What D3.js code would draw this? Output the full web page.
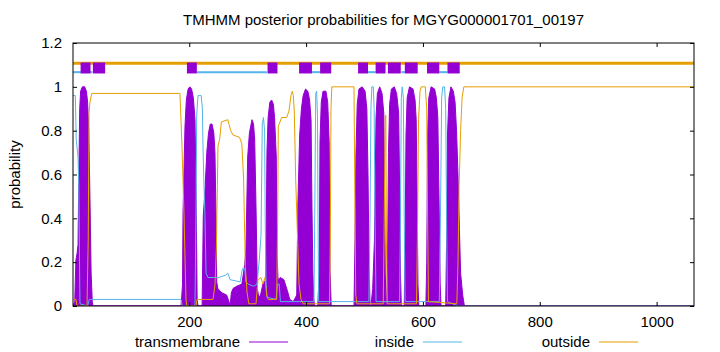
<!DOCTYPE html>
<html>
  <head>
    <meta charset="UTF-8" />
    <script src="https://d3js.org/d3.v7.min.js"></script>
    <style>
      body { margin: 0; background: #fff; }
      text { font-family: "Liberation Sans", Arial, sans-serif; }
    </style>
  </head>
  <body>
    <div id="chart"></div>
    <script>
      // sequence positions and posterior probabilities
      var transmembrane = [
        [1,0],[4,0.02],[5,0.12],[6,0.21],[8,0.24],[9.6,0.28],[11,0.6],[12.5,0.9],[14,0.98],[17,1],[21,1],[24,0.98],[26,0.93],[28,0.8],[30,0.5],[32,0.15],[34,0.02],[35,0],
        [186,0],[188.5,0.1],[189.3,0.42],[192.7,0.82],[195,0.94],[198,0.99],[201,1],[204,0.99],[207,0.95],[209.8,0.85],[211.5,0.55],[212.5,0.3],[213.5,0.03],[215,0],
        [222,0],[223.5,0.3],[224,0.41],[227,0.53],[230,0.7],[233,0.79],[236,0.83],[239,0.83],[242,0.79],[244,0.7],[245.8,0.41],[247,0.11],[249,0.08],[252,0.07],[256,0.06],[264,0.05],[268,0.02],[270,0],
        [272,0.06],[275,0.08],[281,0.09],[290,0.1],[295,0.19],[297,0.26],[300,0.68],[303,0.79],[307.4,0.85],[310,0.83],[312,0.76],[314.5,0.42],[316.5,0.08],[319,0.04],[322,0.05],[326,0.1],[331,0.12],
        [333,0.7],[335,0.86],[338,0.93],[341,0.94],[344,0.92],[346,0.86],[349,0.68],[350.5,0.22],[352,0.12],[356,0.13],[362,0.12],[368,0.07],[372,0.03],[378,0.02],[382,0.04],[384,0.05],
        [386,0.47],[389,0.78],[392,0.9],[395,0.96],[399,0.99],[403,0.98],[406,0.94],[408.5,0.85],[410,0.47],[411.5,0.16],[413,0.03],[415,0],
        [420,0],[422.5,0.16],[423.8,0.75],[426,0.93],[429,0.98],[434,0.98],[437,0.93],[439.5,0.75],[441,0.16],[443,0],
        [482,0],[483.7,0.3],[485.4,0.7],[487.5,0.92],[490.5,0.99],[496,1],[501,0.98],[504,0.9],[506,0.6],[507.7,0.2],[509.5,0],
        [511,0],[514,0.08],[517,0.3],[519.7,0.86],[522,0.97],[526,1],[530,0.97],[533,0.88],[534.5,0.5],[535.5,0.15],[537,0],
        [538,0],[539.5,0.2],[541,0.7],[543,0.92],[546,0.99],[551,1],[555,0.97],[558.5,0.88],[560,0.55],[561.5,0.15],[563,0],
        [568,0],[569.5,0.3],[571,0.78],[573,0.95],[577,1],[583,0.99],[586.5,0.94],[588.5,0.85],[590,0.5],[591.5,0.1],[593,0],
        [605,0],[606.5,0.2],[608,0.78],[610,0.95],[614,1],[620,0.99],[623,0.95],[625.5,0.86],[627.5,0.5],[629.5,0.1],[631,0],
        [639,0],[640.5,0.3],[642,0.78],[644.5,0.95],[648,1],[652,0.98],[655,0.93],[657.5,0.8],[660,0.6],[662.5,0.35],[664.5,0.15],[668,0.05],[671,0],[1064,0]
      ];
      var inside = [
        [1,0.96],[5,0.96],[6.5,0.76],[9.6,0.68],[11,0.55],[12.5,0.1],[13,0.01],[26,0],[29,0.03],[31,0.03],[186,0.03],[188,0],
        [209.8,0],[211.5,0.42],[212.7,0.87],[215,0.96],[220.5,0.96],[222.5,0.9],[223.5,0.73],[225.2,0.55],[227,0.4],[228.7,0.15],[232,0.13],[250,0.13],[262,0.14],[266,0.15],[270,0.12],
        [287,0.11],[291,0.17],[295,0.17],[297,0.11],[301,0.1],[310,0.09],[316,0.1],[319.5,0.2],[322.8,0.32],[324,0.6],[325,0.83],[327,0.86],[329,0.8],[330,0.4],[331.4,0.11],[333,0.04],
        [348.5,0.03],[351,0.1],[354,0.1],[356,0.02],[413.5,0.02],[415.3,0.58],[416.5,0.97],[418,0.98],[419.5,0.87],[420.4,0.42],[421.5,0.02],
        [507.5,0.02],[509.4,0.4],[511,0.9],[512.5,1],[515,1],[516.5,0.9],[518,0.4],[519.7,0.02],
        [560,0.02],[561.5,0.4],[563,0.95],[564.5,1],[566.5,0.95],[568,0.4],[569.5,0.02],
        [628,0.02],[630,0.4],[632,0.95],[634,1],[637,1],[639,0.9],[640.5,0.4],[642,0.02],[660,0],[1064,0]
      ];
      var outside = [
        [1,0.03],[6,0.03],[8,0],[25,0],[27,0.3],[28.5,0.88],[30,0.93],[33,0.97],[184,0.97],[187.6,0.73],[191,0.42],[194.4,0.03],[196,0],
        [211.5,0],[213.3,0.03],[240.7,0.03],[244.1,0.1],[246.5,0.27],[249.2,0.73],[252,0.76],[255,0.84],[266,0.85],[268,0.83],[271,0.8],[275,0.78],[286,0.77],[290,0.74],[293,0.58],[296,0.18],[299,0.06],[302,0.01],
        [314.3,0.01],[317.7,0.12],[322.8,0.13],[326,0.1],[329.7,0.13],[332.5,0.05],[335.3,0.03],[349.7,0.03],[351.4,0.42],[352.4,0.82],[358.2,0.86],[366.8,0.86],[370.7,0.89],[374.1,0.96],[376.4,0.98],[378.1,0.96],[379.8,0.89],[382.2,0.58],[385.6,0.29],[387.9,0.1],[391.3,0.03],[395,0.01],
        [440,0.01],[441.5,0.3],[442.6,0.9],[444,1],[482,1],[483.5,0.5],[485,0.05],[487,0.01],
        [532,0.01],[533.4,0.3],[535.5,0.87],[536.5,0.87],[537.5,0.3],[539,0.01],
        [589,0.01],[590.5,0.3],[592.5,0.85],[595,0.98],[597,1],[604,1],[606.5,0.9],[608,0.4],[609.5,0.02],
        [658,0.01],[660,0.2],[662,0.55],[664.5,0.8],[667,0.95],[670,1],[1064,1]
      ];
      // predicted topology shown above the curves
      var helixRegions = [[14,31],[35,56],[196,213],[334,351],[388,410],[424,443],[489,506],[519,536],[540,562],[569,591],[607,628],[642,663]];
      var insideRegions = [[1,34],[213,333],[410,424],[506,519],[563,569],[628,642]];
      var outsideRegions = [[1,1064]];
      var xTicks = [200, 400, 600, 800, 1000];
      var yTicks = [0, 0.2, 0.4, 0.6, 0.8, 1, 1.2];
      var seqLength = 1064;

      var W = 720, H = 352;
      var margin = { top: 43, right: 26, bottom: 46, left: 73 };
      var colors = { tm: "#9400d3", inside: "#56b4e9", outside: "#e69f00" };

      var svg = d3.select("#chart").append("svg")
        .attr("width", W).attr("height", H);

      var x = d3.scaleLinear().domain([1, seqLength]).range([margin.left, W - margin.right]);
      var y = d3.scaleLinear().domain([0, 1.2]).range([H - margin.bottom, margin.top]);

      svg.append("clipPath").attr("id", "clip").append("rect")
        .attr("x", x(1)).attr("y", y(1.2))
        .attr("width", x(seqLength) - x(1)).attr("height", y(0) - y(1.2));

      var plot = svg.append("g").attr("clip-path", "url(#clip)");

      var area = d3.area().x(d => x(d[0])).y0(y(0)).y1(d => y(d[1]));
      var line = d3.line().x(d => x(d[0])).y(d => y(d[1]));

      plot.append("path").attr("d", area(transmembrane))
        .attr("fill", colors.tm).attr("stroke", colors.tm).attr("stroke-width", 1);
      plot.append("path").attr("d", line(inside))
        .attr("fill", "none").attr("stroke", colors.inside).attr("stroke-width", 1);
      plot.append("path").attr("d", line(outside))
        .attr("fill", "none").attr("stroke", colors.outside).attr("stroke-width", 1);

      // topology bars
      plot.selectAll(".outbar").data(outsideRegions).enter().append("line")
        .attr("x1", d => x(d[0])).attr("x2", d => x(d[1]))
        .attr("y1", y(1.108)).attr("y2", y(1.108))
        .attr("stroke", colors.outside).attr("stroke-width", 3);
      plot.selectAll(".inbar").data(insideRegions).enter().append("line")
        .attr("x1", d => x(d[0])).attr("x2", d => x(d[1]))
        .attr("y1", y(1.067)).attr("y2", y(1.067))
        .attr("stroke", colors.inside).attr("stroke-width", 2);
      plot.selectAll(".tmbox").data(helixRegions).enter().append("rect")
        .attr("x", d => x(d[0])).attr("width", d => x(d[1]) - x(d[0]))
        .attr("y", y(1.111)).attr("height", y(1.061) - y(1.111))
        .attr("fill", colors.tm);

      // axes
      var tickLen = 4;
      function styleAxis(g, labels) {
        g.select(".domain").remove();
        g.selectAll(".tick line").attr("stroke", "#000");
        g.selectAll(".tick text").attr("font-size", 15).attr("fill", "#000");
        if (!labels) g.selectAll(".tick text").remove();
      }
      svg.append("g").attr("transform", "translate(0," + y(0) + ")")
        .call(d3.axisBottom(x).tickValues(xTicks).tickFormat(d3.format("d")).tickSize(-tickLen).tickPadding(10))
        .call(g => styleAxis(g, true));
      svg.append("g").attr("transform", "translate(0," + y(1.2) + ")")
        .call(d3.axisTop(x).tickValues(xTicks).tickSize(-tickLen))
        .call(g => styleAxis(g, false));
      svg.append("g").attr("transform", "translate(" + x(1) + ",0)")
        .call(d3.axisLeft(y).tickValues(yTicks).tickFormat(d3.format("~g")).tickSize(-tickLen).tickPadding(11))
        .call(g => styleAxis(g, true));
      svg.append("g").attr("transform", "translate(" + x(seqLength) + ",0)")
        .call(d3.axisRight(y).tickValues(yTicks).tickSize(-tickLen))
        .call(g => styleAxis(g, false));

      svg.append("rect")
        .attr("x", x(1)).attr("y", y(1.2))
        .attr("width", x(seqLength) - x(1)).attr("height", y(0) - y(1.2))
        .attr("fill", "none").attr("stroke", "#000").attr("stroke-width", 1);

      svg.append("text").attr("x", (x(1) + x(seqLength)) / 2).attr("y", 25)
        .attr("text-anchor", "middle").attr("font-size", 15)
        .text("TMHMM posterior probabilities for MGYG000001701_00197");

      svg.append("text")
        .attr("transform", "translate(20," + (y(0) + y(1.2)) / 2 + ") rotate(-90)")
        .attr("text-anchor", "middle").attr("font-size", 15)
        .text("probability");

      // legend
      var legend = [
        { name: "transmembrane", color: colors.tm, end: 240 },
        { name: "inside", color: colors.inside, end: 414 },
        { name: "outside", color: colors.outside, end: 590 }
      ];
      var lg = svg.append("g").selectAll("g").data(legend).enter().append("g");
      lg.append("text").attr("x", d => d.end).attr("y", 347)
        .attr("text-anchor", "end").attr("font-size", 15).text(d => d.name);
      lg.append("line").attr("x1", d => d.end + 9).attr("x2", d => d.end + 48)
        .attr("y1", 342).attr("y2", 342)
        .attr("stroke", d => d.color).attr("stroke-width", 1);
    </script>
  </body>
</html>
